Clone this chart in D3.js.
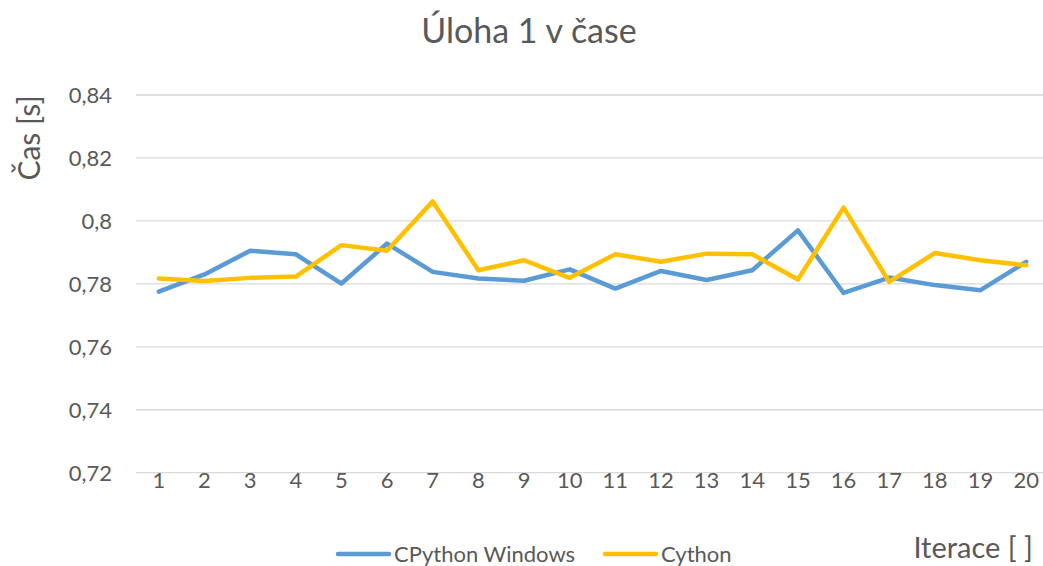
<!DOCTYPE html>
<html>
<head>
<meta charset="utf-8">
<script src="https://cdn.jsdelivr.net/npm/d3@7"></script>
<style>
  html, body { margin: 0; padding: 0; background: #fff; }
  svg { display: block; }
  text { font-family: Lato, "Open Sans", sans-serif; fill: #595959; }
</style>
</head>
<body>
<svg id="chart" width="1043" height="566"></svg>
<script>
const categories = ["1","2","3","4","5","6","7","8","9","10","11","12","13","14","15","16","17","18","19","20"];
const cpythonWindows = [0.7775, 0.7830, 0.7905, 0.7894, 0.7801, 0.7928, 0.7838, 0.7817, 0.7810, 0.7846, 0.7785, 0.7841, 0.7812, 0.7843, 0.7970, 0.7771, 0.7820, 0.7796, 0.7780, 0.7870];
const cython = [0.7817, 0.7809, 0.7819, 0.7823, 0.7923, 0.7905, 0.8062, 0.7843, 0.7875, 0.7819, 0.7894, 0.7870, 0.7896, 0.7894, 0.7814, 0.8042, 0.7806, 0.7898, 0.7875, 0.7859];
const yTicks = [0.72, 0.74, 0.76, 0.78, 0.80, 0.82, 0.84];
const yTickLabels = ["0,72", "0,74", "0,76", "0,78", "0,8", "0,82", "0,84"];
const seriesNames = ["CPython Windows", "Cython"];
const seriesColors = ["#5b9bd5", "#ffc000"];

const svg = d3.select("#chart");
const x = d3.scaleBand().domain(categories).range([136, 1049]);
const y = d3.scaleLinear().domain([0.72, 0.84]).range([472.7, 95]);

// gridlines
svg.append("g").selectAll("line").data(yTicks).join("line")
  .attr("x1", 136).attr("x2", 1049)
  .attr("y1", d => y(d)).attr("y2", d => y(d))
  .attr("stroke", "#d9d9d9").attr("stroke-width", 1.3);

// y tick labels
const yAxis = d3.axisLeft(y).tickValues(yTicks).tickFormat((d, i) => yTickLabels[i]).tickSize(0).tickPadding(0);
const gy = svg.append("g").attr("transform", "translate(112,0)").call(yAxis);
gy.select(".domain").remove();
gy.selectAll("text").attr("font-size", 22).attr("font-family", "Lato, sans-serif").attr("fill", "#595959").attr("dy", "0.35em");

// x tick labels
const xAxis = d3.axisBottom(x).tickSize(0).tickPadding(0);
const gx = svg.append("g").attr("transform", "translate(0,480)").call(xAxis);
gx.select(".domain").remove();
gx.selectAll("text").attr("font-size", 22).attr("font-family", "Lato, sans-serif").attr("fill", "#595959").attr("dy", "0.35em");

// lines
const line = d3.line().x((d, i) => x(categories[i]) + x.bandwidth() / 2).y(d => y(d));
[cpythonWindows, cython].forEach((s, i) => {
  svg.append("path").datum(s)
    .attr("d", line)
    .attr("fill", "none")
    .attr("stroke", seriesColors[i])
    .attr("stroke-width", 4.5)
    .attr("stroke-linejoin", "round")
    .attr("stroke-linecap", "round");
});

// title
svg.append("text").attr("x", 529).attr("y", 43).attr("text-anchor", "middle")
  .attr("font-size", 34).text("Úloha 1 v čase");

// y title
svg.append("text").attr("transform", "translate(40,138) rotate(-90)")
  .attr("text-anchor", "middle").attr("font-size", 30).text("Čas [s]");

// x title
svg.append("text").attr("x", 1033).attr("y", 558).attr("text-anchor", "end")
  .attr("font-size", 29).text("Iterace [ ]");

// legend
const legendX = [336, 603];
seriesNames.forEach((n, i) => {
  const g = svg.append("g");
  g.append("line").attr("x1", legendX[i] + 2).attr("x2", legendX[i] + 53)
    .attr("y1", 554).attr("y2", 554)
    .attr("stroke", seriesColors[i]).attr("stroke-width", 4.5).attr("stroke-linecap", "round");
  g.append("text").attr("x", legendX[i] + 58).attr("y", 554).attr("dy", "0.35em")
    .attr("font-size", 22).text(n);
});
</script>
</body>
</html>
